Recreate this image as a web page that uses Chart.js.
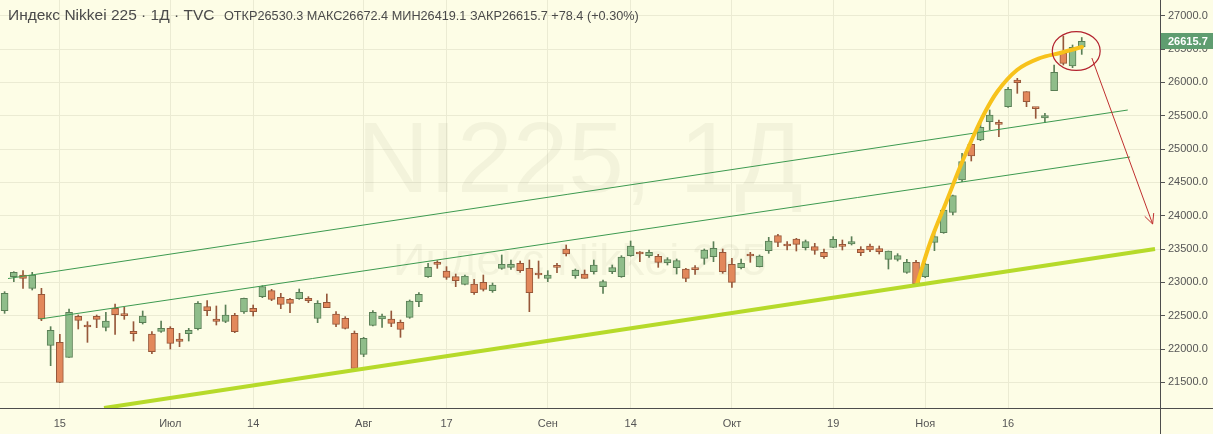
<!DOCTYPE html>
<html>
<head>
<meta charset="utf-8">
<script src="https://cdn.jsdelivr.net/npm/chart.js@4.4.1/dist/chart.umd.min.js"></script>
<style>
  html, body { margin: 0; padding: 0; background: #fdfde8; }
  canvas { display: block; }
</style>
</head>
<body>
<canvas id="chart" width="1213" height="434"></canvas>
<script>
// daily candles, 5 Jun .. 27 Nov 2020
const opens = [
  22575, 23085, 23110, 22910, 22820, 22055, 22100, 21875, 22490, 22340,
  22490, 22325, 22610, 22510, 22265, 22395, 22225, 22265, 22310, 22150,
  22230, 22305, 22635, 22450, 22415, 22505, 22555, 22610, 22785, 22875,
  22775, 22745, 22755, 22760, 22460, 22700, 22525, 22460, 22235, 21920,
  22355, 22450, 22450, 22400, 22475, 22710, 23085, 23300, 23170, 23085,
  22970, 22975, 23000, 22875, 23210, 23225, 23285, 23210, 23125, 23060,
  23250, 23500, 23100, 23125, 23160, 22935, 23160, 23085, 23400, 23435,
  23400, 23390, 23295, 23220, 23200, 23200, 23360, 23385, 23450, 23270,
  23220, 23410, 23235, 23475, 23700, 23575, 23650, 23520, 23535, 23450,
  23525, 23560, 23575, 23495, 23545, 23505, 23345, 23345, 23150, 23300,
  23085, 23600, 23745, 24050, 24535, 25070, 25135, 25410, 25385, 25635,
  26035, 25860, 25615, 25465, 25875, 26435, 26245, 26530.3
];
const highs = [
  22860, 23160, 23175, 23150, 22910, 22335, 22220, 22600, 22510, 22410,
  22510, 22550, 22675, 22625, 22410, 22570, 22260, 22420, 22335, 22235,
  22310, 22710, 22725, 22645, 22660, 22535, 22765, 22660, 22950, 22895,
  22835, 22760, 22900, 22785, 22725, 22825, 22560, 22485, 22270, 22175,
  22575, 22525, 22570, 22435, 22735, 22845, 23285, 23325, 23235, 23125,
  23110, 23045, 23110, 22990, 23410, 23335, 23320, 23335, 23320, 23175,
  23285, 23560, 23200, 23185, 23335, 23035, 23260, 23400, 23620, 23460,
  23485, 23420, 23370, 23350, 23210, 23250, 23500, 23610, 23500, 23360,
  23350, 23450, 23410, 23675, 23720, 23610, 23660, 23635, 23585, 23500,
  23685, 23635, 23685, 23535, 23575, 23545, 23470, 23430, 23345, 23330,
  23285, 23785, 24110, 24310, 24935, 25110, 25395, 25585, 25435, 25925,
  26060, 25860, 25625, 25535, 26260, 26695, 26560, 26672.4
];
const lows = [
  22535, 23010, 22910, 22885, 22425, 21750, 21495, 21875, 22300, 22100,
  22320, 22270, 22220, 22445, 22120, 22375, 21930, 22250, 22000, 22035,
  22120, 22285, 22500, 22360, 22395, 22245, 22535, 22495, 22770, 22725,
  22605, 22545, 22745, 22695, 22395, 22620, 22335, 22300, 21705, 21885,
  22345, 22325, 22335, 22175, 22460, 22635, 23075, 23210, 23045, 22935,
  22960, 22820, 22870, 22850, 23195, 23195, 23150, 22560, 23060, 23010,
  23145, 23395, 23060, 23060, 23125, 22835, 23130, 23075, 23390, 23310,
  23375, 23225, 23260, 23125, 23010, 23120, 23270, 23310, 23135, 22925,
  23200, 23300, 23230, 23435, 23535, 23485, 23470, 23485, 23420, 23360,
  23520, 23485, 23560, 23400, 23460, 23425, 23200, 23320, 23135, 22960,
  23070, 23475, 23735, 24010, 24510, 24820, 25125, 25290, 25185, 25625,
  25835, 25635, 25460, 25395, 25875, 26260, 26220, 26419.1
];
const closes = [
  22835, 23150, 23060, 23110, 22450, 22280, 21500, 22550, 22430, 22330,
  22445, 22420, 22515, 22500, 22230, 22495, 21960, 22310, 22085, 22115,
  22280, 22685, 22575, 22415, 22510, 22260, 22760, 22560, 22935, 22745,
  22670, 22685, 22850, 22725, 22685, 22620, 22370, 22310, 21710, 22160,
  22550, 22495, 22385, 22295, 22720, 22820, 23225, 23270, 23075, 23025,
  23095, 22845, 22895, 22960, 23270, 23270, 23175, 22845, 23110, 23110,
  23225, 23425, 23185, 23060, 23260, 23010, 23220, 23380, 23545, 23425,
  23450, 23300, 23340, 23325, 23060, 23190, 23485, 23510, 23160, 23000,
  23285, 23395, 23395, 23620, 23600, 23545, 23570, 23610, 23480, 23385,
  23645, 23540, 23610, 23445, 23485, 23460, 23470, 23400, 23300, 22975,
  23275, 23685, 24085, 24300, 24810, 24895, 25325, 25510, 25370, 25895,
  25995, 25710, 25605, 25500, 26150, 26285, 26525, 26615.7
];

const slotCount = 126;
const xTickIndex = [6, 18, 27, 39, 48, 59, 68, 79, 90, 100, 109];
const xTickLabels = ['15', 'Июл', '14', 'Авг', '17', 'Сен', '14', 'Окт', '19', 'Ноя', '16'];
const yTicks = [21500, 22000, 22500, 23000, 23500, 24000, 24500, 25000, 25500, 26000, 26500, 27000];

// hand-drawn lines on the chart, in (candle index, price)
const upperChannel = [{x: 0.37, y: 23057}, {x: 122.0, y: 25585}];
const lowerChannel = [{x: 3.84, y: 22450}, {x: 122.25, y: 24880}];
const supportLine = [{x: 10.8, y: 21115}, {x: 124.96, y: 23500}];
const rallyCurve = [
  {x: 99.11, y: 22975}, {x: 100.52, y: 23590}, {x: 102.37, y: 24235},
  {x: 103.78, y: 24730}, {x: 105.19, y: 25180}, {x: 106.5, y: 25555},
  {x: 107.8, y: 25855}, {x: 109.97, y: 26185}, {x: 112.47, y: 26365},
  {x: 114.64, y: 26440}, {x: 117.03, y: 26530}
];
const focusRing = {x: 116.4, y: 26470, rx: 2.6, ry: 292};
const arrowPath = [{x: 118.1, y: 26365}, {x: 124.7, y: 23875}];

const titleText = 'Индекс Nikkei 225 · 1Д · TVC';
const ohlcText = 'ОТКР26530.3 МАКС26672.4 МИН26419.1 ЗАКР26615.7 +78.4 (+0.30%)';

const upFill = '#8fbd8a', upLine = '#5a7f56';
const downFill = '#e2885b', downLine = '#96573a';
const font = '"Liberation Sans", Arial, sans-serif';

const idx = closes.map((_, i) => i);
const isUp = idx.map(i => closes[i] >= opens[i]);

const decor = {
  id: 'decor',
  beforeDraw(chart) {
    const {ctx, width, height} = chart;
    ctx.save();
    ctx.fillStyle = '#fdfde6';
    ctx.fillRect(0, 0, width, height);
    ctx.restore();
  },
  beforeDatasetsDraw(chart) {
    const {ctx, chartArea} = chart;
    const cx = (chartArea.left + chartArea.right) / 2;
    ctx.save();
    ctx.fillStyle = 'rgba(110, 110, 80, 0.07)';
    ctx.textAlign = 'center';
    ctx.textBaseline = 'alphabetic';
    ctx.font = '100px ' + font;
    ctx.fillText('NI225, 1Д', cx, 192);
    ctx.font = '45px ' + font;
    ctx.fillText('Индекс Nikkei 225', cx, 275);
    ctx.restore();
  },
  afterDatasetsDraw(chart) {
    const {ctx} = chart;
    const xs = chart.scales.x, ys = chart.scales.y;
    ctx.save();
    // ring round the last candles
    const ex = xs.getPixelForValue(focusRing.x), ey = ys.getPixelForValue(focusRing.y);
    const rx = xs.getPixelForValue(focusRing.x + focusRing.rx) - ex;
    const ry = ey - ys.getPixelForValue(focusRing.y + focusRing.ry);
    ctx.strokeStyle = '#b3232f';
    ctx.lineWidth = 1.2;
    ctx.beginPath();
    ctx.ellipse(ex, ey, rx, ry, 0, 0, Math.PI * 2);
    ctx.stroke();
    // arrow
    const x1 = xs.getPixelForValue(arrowPath[0].x), y1 = ys.getPixelForValue(arrowPath[0].y);
    const x2 = xs.getPixelForValue(arrowPath[1].x), y2 = ys.getPixelForValue(arrowPath[1].y);
    const a = Math.atan2(y2 - y1, x2 - x1);
    ctx.strokeStyle = '#c0302f';
    ctx.lineWidth = 1;
    ctx.beginPath();
    ctx.moveTo(x1, y1);
    ctx.lineTo(x2, y2);
    ctx.moveTo(x2 - 11 * Math.cos(a - 0.45), y2 - 11 * Math.sin(a - 0.45));
    ctx.lineTo(x2, y2);
    ctx.lineTo(x2 - 11 * Math.cos(a + 0.45), y2 - 11 * Math.sin(a + 0.45));
    ctx.stroke();
    ctx.restore();
  },
  afterDraw(chart) {
    const {ctx, chartArea, width, height} = chart;
    const ys = chart.scales.y;
    ctx.save();
    // axis frame lines running to the canvas edge
    ctx.strokeStyle = '#4d4d4d';
    ctx.lineWidth = 1;
    ctx.beginPath();
    ctx.moveTo(0, Math.round(chartArea.bottom) + 0.5);
    ctx.lineTo(width, Math.round(chartArea.bottom) + 0.5);
    ctx.moveTo(Math.round(chartArea.right) + 0.5, chartArea.bottom);
    ctx.lineTo(Math.round(chartArea.right) + 0.5, height);
    ctx.stroke();
    // last price tag
    const last = closes[closes.length - 1];
    const py = Math.round(ys.getPixelForValue(last));
    ctx.fillStyle = '#5f9d70';
    ctx.fillRect(chartArea.right + 1, py - 8, width - chartArea.right, 16);
    ctx.fillStyle = '#ffffff';
    ctx.font = 'bold 11px ' + font;
    ctx.textBaseline = 'middle';
    ctx.fillText(last.toFixed(1), chartArea.right + 8, py + 0.5);
    // legend line
    ctx.fillStyle = '#4a4a4a';
    ctx.textBaseline = 'alphabetic';
    ctx.font = '15.5px ' + font;
    ctx.fillText(titleText, 8, 20);
    ctx.font = '12.7px ' + font;
    ctx.fillText(ohlcText, 224, 20);
    ctx.restore();
  }
};

new Chart(document.getElementById('chart'), {
  type: 'bar',
  data: {
    datasets: [
      {
        type: 'line', data: upperChannel, borderColor: '#3d9a50', borderWidth: 1,
        pointRadius: 0, fill: false, order: 2
      },
      {
        type: 'line', data: lowerChannel, borderColor: '#3d9a50', borderWidth: 1,
        pointRadius: 0, fill: false, order: 2
      },
      {
        type: 'line', data: supportLine, borderColor: '#b6da2a', borderWidth: 4,
        pointRadius: 0, fill: false, order: 1
      },
      {
        type: 'line', data: rallyCurve, borderColor: '#f7c21b', borderWidth: 4,
        cubicInterpolationMode: 'monotone', borderCapStyle: 'round',
        pointRadius: 0, fill: false, order: 1
      },
      {
        data: idx.map(i => ({x: i, y: [opens[i], closes[i]]})),
        backgroundColor: isUp.map(u => u ? upFill : downFill),
        borderColor: isUp.map(u => u ? upLine : downLine),
        borderWidth: 1, borderSkipped: false, barThickness: 7, minBarLength: 2,
        grouped: false, order: 4
      },
      {
        data: idx.map(i => ({x: i, y: [lows[i], highs[i]]})),
        backgroundColor: isUp.map(u => u ? upLine : downLine),
        barThickness: 1, grouped: false, order: 5
      }
    ]
  },
  options: {
    responsive: false,
    animation: false,
    devicePixelRatio: 1,
    layout: { padding: 0 },
    plugins: { legend: { display: false }, tooltip: { enabled: false } },
    scales: {
      x: {
        type: 'linear', min: -0.5, max: slotCount - 0.5, offset: false,
        grid: { offset: false, color: '#ebebd3', drawTicks: false },
        border: { color: '#4d4d4d' },
        afterBuildTicks: s => { s.ticks = xTickIndex.map(v => ({value: v})); },
        afterFit: s => { s.height = 26; s.paddingLeft = 0; s.paddingRight = 0; },
        ticks: {
          autoSkip: false, maxRotation: 0, padding: 9, color: '#555',
          font: { family: font, size: 11 },
          callback: v => xTickLabels[xTickIndex.indexOf(v)]
        }
      },
      y: {
        position: 'right', min: 21115, max: 27235, beginAtZero: false,
        grid: { color: '#ebebd3', tickColor: '#555', tickLength: 5 },
        border: { color: '#4d4d4d' },
        afterBuildTicks: s => { s.ticks = yTicks.map(v => ({value: v})); },
        afterFit: s => { s.width = 53; s.paddingTop = 0; s.paddingBottom = 0; },
        ticks: {
          padding: 3, color: '#555', font: { family: font, size: 11 },
          callback: v => v.toFixed(1)
        }
      }
    }
  },
  plugins: [decor]
});
</script>
</body>
</html>
